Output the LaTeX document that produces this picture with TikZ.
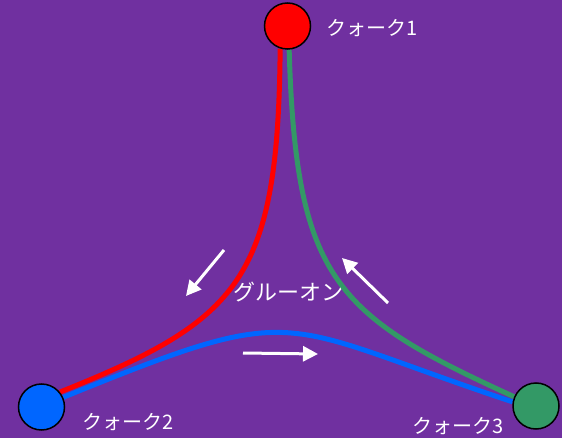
\documentclass[tikz,border=0pt]{standalone}
\usepackage{fontspec}
\newfontfamily\jpfont{Noto Sans CJK JP}
\usetikzlibrary{arrows.meta}
\definecolor{bgpurple}{RGB}{112,48,160}
\definecolor{qred}{RGB}{255,0,0}
\definecolor{qblue}{RGB}{0,102,255}
\definecolor{qgreen}{RGB}{51,153,102}
\pgfdeclarelayer{back}
\pgfsetlayers{back,main}

\begin{document}
\begin{tikzpicture}[
      x=1pt, y=-1pt,
      >={Triangle[length=15pt,width=15pt]},
      quark/.style={circle, draw=black, line width=1.5pt, minimum size=46pt, inner sep=0pt},
      gluon/.style={line width=5pt},
      flow/.style={draw=white, line width=3pt, ->},
      qlabel/.style={text=white, inner sep=0pt, font=\jpfont\fontsize{20}{22}\selectfont}
    ]
    \useasboundingbox (0,0) rectangle (562,438);

    \node[quark, fill=qred]   (q1) at (287.5,26) {};
    \node[quark, fill=qblue]  (q2) at (41.5,407) {};
    \node[quark, fill=qgreen] (q3) at (536,406) {};

    \node[qlabel] (k1) at (372,28)  {クォーク1};
    \node[qlabel] (k2) at (128,422) {クォーク2};
    \node[qlabel] (k3) at (458,426) {クォーク3};
    \node[qlabel, font=\jpfont\fontsize{22}{24}\selectfont] (gl) at (288,292) {グルーオン};

    \begin{pgfonlayer}{back}
      \fill[bgpurple] (0,0) rectangle (562,438);
      \draw[gluon, qblue]  (q2.24) .. controls (305,299) and (272,322) .. (q3.170);
      \draw[gluon, qred]   (q1.-108) .. controls (278,280) and (240,320) .. (q2.39);
      \draw[gluon, qgreen] (q1.-86) .. controls (296,280) and (335,315) .. (q3.157);
    \end{pgfonlayer}

    % colour flow
    \coordinate (a1s) at (224,250);
    \coordinate (a1e) at (186,296);
    \coordinate (a2s) at (388,303);
    \coordinate (a2e) at (342,258);
    \coordinate (a3s) at (243,353);
    \coordinate (a3e) at (318,354);
    \foreach \a/\b in {a1s/a1e, a2s/a2e, a3s/a3e}
      \draw[flow] (\a) -- (\b);
\end{tikzpicture}
\end{document}
